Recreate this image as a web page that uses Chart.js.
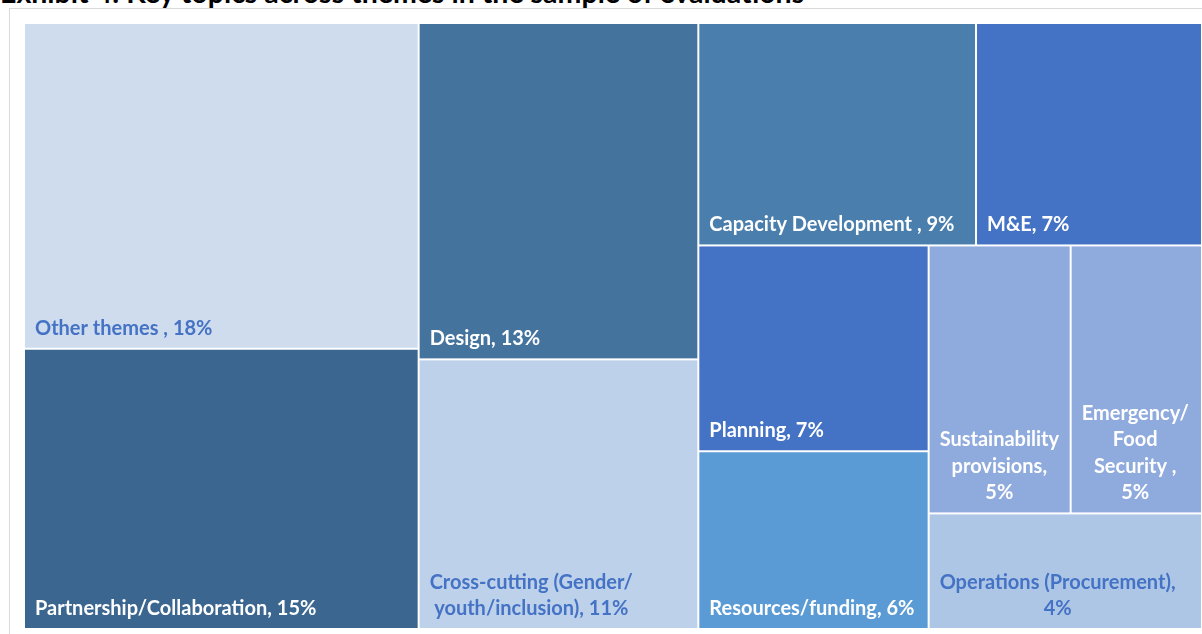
<!DOCTYPE html>
<html>
<head>
<meta charset="utf-8">
<script src="https://cdn.jsdelivr.net/npm/chart.js@4.4.1/dist/chart.umd.min.js"></script>
<style>
    html, body { margin: 0; padding: 0; background: #fff; overflow: hidden; }
    body { width: 1202px; height: 634px; position: relative; }
    #titulo { position: absolute; left: 0; top: -22px; font: bold 28.5px Lato, sans-serif; color: #000; white-space: nowrap; line-height: 1; }
    #marco { position: absolute; left: 9px; top: 8px; width: 1220px; height: 660px; border: 1px solid #d9d9d9; }
    #caja { position: absolute; left: 24px; top: 23px; width: 1178px; height: 606px; }
</style>
</head>
<body>
<div id="titulo">Exhibit 4: Key topics across themes in the sample of evaluations</div>
<div id="marco"></div>
<div id="caja"><canvas id="grafico"></canvas></div>
<script>
// datos del treemap (valores estimados a partir del area de cada celda)
const temas = [
    'Other themes ',
    'Partnership/Collaboration',
    'Design',
    'Cross-cutting (Gender/youth/inclusion)',
    'Capacity Development ',
    'M&E',
    'Planning',
    'Resources/funding',
    'Sustainability provisions',
    'Emergency/Food Security ',
    'Operations (Procurement)'
]
const valores = [17.9, 15.4, 13.1, 10.5, 8.6, 7.0, 6.6, 5.7, 5.3, 4.9, 4.4]
const colores = ['#CFDCEE', '#3A6690', '#44739E', '#BDD1EA', '#4A7EAD', '#4472C4', '#4472C4', '#5B9BD5', '#8FAADC', '#8FAADC', '#ADC6E6']
const coloresTexto = ['#4472C4', '#fff', '#fff', '#4472C4', '#fff', '#fff', '#fff', '#fff', '#fff', '#fff', '#4472C4']

const peorRatio = (fila, lado) => {
    const s = fila.reduce((a, b) => a + b, 0)
    const max = Math.max(...fila)
    const min = Math.min(...fila)
    return Math.max(lado * lado * max / (s * s), s * s / (lado * lado * min))
}

// squarified, con un poco de tolerancia como el de Excel
const squarify = (vals, x, y, w, h) => {
    const total = vals.reduce((a, b) => a + b, 0)
    const areas = vals.map(v => v * w * h / total)
    const rects = []
    let i = 0
    while (i < areas.length) {
        const lado = Math.min(w, h)
        let fila = [areas[i]]
        let peor = peorRatio(fila, lado)
        let j = i + 1
        while (j < areas.length) {
            const prueba = fila.concat(areas[j])
            const p = peorRatio(prueba, lado)
            if (p > peor * 1.05) break
            fila = prueba
            peor = p
            j++
        }
        const suma = fila.reduce((a, b) => a + b, 0)
        if (w >= h) {
            const ancho = suma / h
            let yy = y
            fila.forEach(a => { rects.push({ x: x, y: yy, w: ancho, h: a / ancho }); yy += a / ancho })
            x += ancho
            w -= ancho
        } else {
            const alto = suma / w
            let xx = x
            fila.forEach(a => { rects.push({ x: xx, y: y, w: a / alto, h: alto }); xx += a / alto })
            y += alto
            h -= alto
        }
        i = j
    }
    return rects
}

const partirTexto = (ctx, texto, maxAncho) => {
    const trozos = texto.split(/(?<=[ \/])/)
    const lineas = []
    let actual = ''
    trozos.forEach(t => {
        const prueba = actual + t
        if (actual !== '' && ctx.measureText(prueba.trimEnd()).width > maxAncho) {
            lineas.push(actual.trimEnd())
            actual = t
        } else {
            actual = prueba
        }
    })
    if (actual.trim() !== '') lineas.push(actual.trimEnd())
    return lineas
}

const celdasPlugin = {
    id: 'celdas',
    beforeDatasetsDraw(chart) {
        const { ctx, chartArea, scales } = chart
        const W = chartArea.right - chartArea.left
        const H = chartArea.bottom - chartArea.top
        const rects = squarify(valores, 0, 0, W, H)
        ctx.save()
        rects.forEach((r, k) => {
            const x0 = scales.x.getPixelForValue(r.x / W)
            const x1 = scales.x.getPixelForValue((r.x + r.w) / W)
            const y0 = scales.y.getPixelForValue(r.y / H)
            const y1 = scales.y.getPixelForValue((r.y + r.h) / H)
            ctx.fillStyle = colores[k]
            ctx.fillRect(x0 + 1, y0 + 1, x1 - x0 - 2, y1 - y0 - 2)

            ctx.font = 'bold 20px Lato'
            ctx.fillStyle = coloresTexto[k]
            ctx.textBaseline = 'alphabetic'
            ctx.textAlign = 'center'
            const texto = temas[k] + ', ' + Math.round(valores[k]) + '%'
            const lineas = partirTexto(ctx, texto, x1 - x0 - 20)
            const bloque = Math.max(...lineas.map(l => ctx.measureText(l).width))
            const cx = x0 + 11 + bloque / 2
            lineas.forEach((l, n) => {
                ctx.fillText(l, cx, y1 - 14 - (lineas.length - 1 - n) * 26.5)
            })
        })
        ctx.restore()
    }
}

new Chart(document.getElementById('grafico'), {
    type: 'scatter',
    data: { datasets: [{ data: [] }] },
    options: {
        responsive: true,
        maintainAspectRatio: false,
        animation: false,
        layout: { padding: 0 },
        plugins: { legend: { display: false }, tooltip: { enabled: false } },
        scales: {
            x: { type: 'linear', min: 0, max: 1, display: false },
            y: { type: 'linear', min: 0, max: 1, reverse: true, display: false }
        }
    },
    plugins: [celdasPlugin]
})
</script>
</body>
</html>
